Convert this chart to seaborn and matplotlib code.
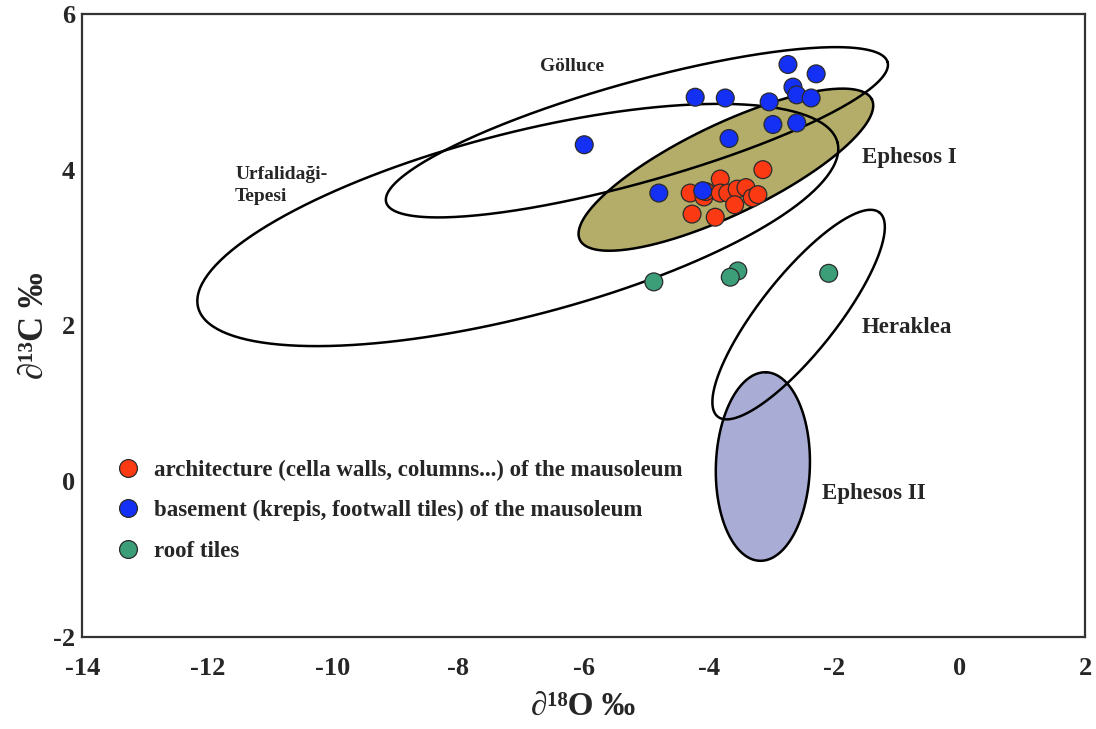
import matplotlib
matplotlib.use("Agg")
import matplotlib.pyplot as plt
import numpy as np
import pandas as pd
import seaborn as sns

# sample groups (d18O, d13C)
arch_x = [-3.14, -3.82, -4.30, -4.08, -4.05, -3.82, -3.70, -3.55, -3.41, -3.31, -3.22, -3.59, -4.27, -3.90]
arch_y = [4.00, 3.88, 3.70, 3.65, 3.72, 3.70, 3.70, 3.75, 3.77, 3.64, 3.68, 3.55, 3.43, 3.39]

base_x = [-2.74, -2.29, -2.66, -2.60, -2.37, -3.04, -4.22, -3.74, -2.98, -2.60, -3.68, -5.99, -4.80, -4.10]
base_y = [5.35, 5.23, 5.06, 4.96, 4.92, 4.87, 4.93, 4.92, 4.58, 4.60, 4.40, 4.32, 3.70, 3.73]

roof_x = [-4.88, -3.54, -3.66, -2.09]
roof_y = [2.56, 2.70, 2.62, 2.67]

groups = ["architecture (cella walls, columns...) of the mausoleum",
          "basement (krepis, footwall tiles) of the mausoleum",
          "roof tiles"]
colors = ["#fb3a14", "#1430f5", "#3c9e78"]

# quarry fields: centre, semi-major vector (data units), semi-minor (x units)
field_names = ["Urfalidaği-\nTepesi", "Gölluce", "Ephesos I", "Heraklea", "Ephesos II"]
field_cx = [-7.05, -5.15, -3.73, -2.57, -3.14]
field_cy = [3.29, 4.48, 4.00, 2.14, 0.19]
field_ux = [5.10, 4.00, 2.33, 1.29, 0.05]
field_uy = [1.06, 0.90, 0.90, 1.31, 1.21]
field_b = [1.46, 0.80, 0.72, 0.61, 0.75]
field_fill = [None, None, "#b4ad69", None, "#a9add6"]
label_x = [-11.56, -6.19, -1.56, -1.56, -2.20]
label_y = [3.80, 5.33, 4.15, 1.97, -0.15]
label_ha = ["left", "center", "left", "left", "left"]
label_size = [14, 14, 16.5, 16.5, 16.5]

df = pd.DataFrame({
    "d18O": arch_x + base_x + roof_x,
    "d13C": arch_y + base_y + roof_y,
    "group": [groups[0]] * len(arch_x) + [groups[1]] * len(base_x) + [groups[2]] * len(roof_x),
})

sns.set_style("white")
plt.rcParams["font.family"] = ["Liberation Serif", "DejaVu Serif"]
plt.rcParams["font.weight"] = "bold"
plt.rcParams["axes.unicode_minus"] = False

fig = plt.figure(figsize=(10.96, 7.29), dpi=100)
ax = fig.add_axes([0.075, 0.126, 0.915, 0.855])
ax.set_xlim(-14, 2)
ax.set_ylim(-2, 6)

# ratio of screen length of one y unit to one x unit
pos = ax.get_position()
k = (pos.height * 7.29 / 8) / (pos.width * 10.96 / 16)

t = np.linspace(0, 2 * np.pi, 300)
order = [4, 2, 3, 0, 1]
for i in order:
    ux, uy = field_ux[i], field_uy[i]
    n = np.hypot(ux, uy * k)
    vx = -uy * k / n * field_b[i]
    vy = ux / n * field_b[i] / k
    ex = field_cx[i] + ux * np.cos(t) + vx * np.sin(t)
    ey = field_cy[i] + uy * np.cos(t) + vy * np.sin(t)
    if field_fill[i]:
        ax.fill(ex, ey, color=field_fill[i], zorder=1)
    ax.plot(ex, ey, color="black", lw=1.8, zorder=2)
    ax.text(label_x[i], label_y[i], field_names[i], ha=label_ha[i], va="center",
            fontsize=label_size[i], fontweight="bold", linespacing=1.35)

sns.scatterplot(data=df, x="d18O", y="d13C", hue="group", hue_order=groups,
                palette=colors, s=165, edgecolor="#2a2a2a", linewidth=0.9,
                ax=ax, zorder=3)

ax.legend(loc="upper left", bbox_to_anchor=(0.014, 0.318), frameon=False,
          handlelength=1.0, handletextpad=0.6, labelspacing=0.85,
          prop={"weight": "bold", "size": 16.5})

ax.set_xticks(np.arange(-14, 3, 2))
ax.set_yticks(np.arange(-2, 7, 2))
ax.set_xticks(np.arange(-13, 2, 2), minor=True)
ax.set_yticks(np.arange(-1, 6, 2), minor=True)
ax.tick_params(which="major", direction="out", length=4, color="#aaaaaa",
               labelsize=19, pad=1)
ax.tick_params(which="minor", direction="out", length=3, color="#cccccc")
ax.tick_params(axis="x", pad=10)
for lab in ax.get_xticklabels() + ax.get_yticklabels():
    lab.set_fontweight("bold")
for sp in ax.spines.values():
    sp.set_color("#333333")
    sp.set_linewidth(1.6)

ax.set_xlabel("∂¹⁸O ‰", fontsize=24, fontweight="bold", labelpad=8)
ax.set_ylabel("∂¹³C ‰", fontsize=25, fontweight="bold", labelpad=2)

fig.savefig("out.png", dpi=100)
